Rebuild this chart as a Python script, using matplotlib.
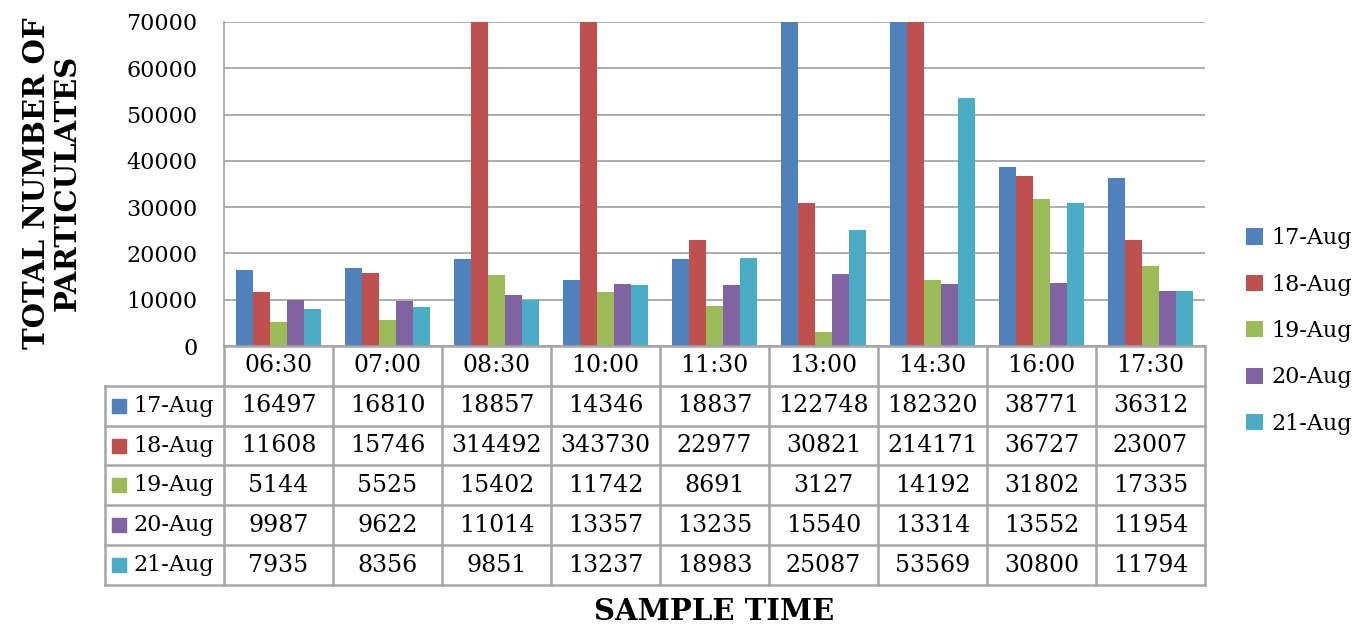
import numpy as np
import matplotlib.pyplot as plt

plt.rcParams['font.family'] = ['DejaVu Serif']

times = ['06:30', '07:00', '08:30', '10:00', '11:30', '13:00', '14:30', '16:00', '17:30']
days = ['17-Aug', '18-Aug', '19-Aug', '20-Aug', '21-Aug']
aug17 = [16497, 16810, 18857, 14346, 18837, 122748, 182320, 38771, 36312]
aug18 = [11608, 15746, 314492, 343730, 22977, 30821, 214171, 36727, 23007]
aug19 = [5144, 5525, 15402, 11742, 8691, 3127, 14192, 31802, 17335]
aug20 = [9987, 9622, 11014, 13357, 13235, 15540, 13314, 13552, 11954]
aug21 = [7935, 8356, 9851, 13237, 18983, 25087, 53569, 30800, 11794]
series = [aug17, aug18, aug19, aug20, aug21]
colors = ['#4F81BD', '#C0504D', '#9BBB59', '#8064A2', '#4BACC6']

W, H = 1370, 629
fig = plt.figure(figsize=(W / 100, H / 100), dpi=100)
gray = '#a6a6a6'

# bar chart area
ax = fig.add_axes([224 / W, 1 - 346 / H, (1205 - 224) / W, (346 - 22) / H])
x = np.arange(len(times))
bw = 0.156
for i, vals in enumerate(series):
    ax.bar(x + (i - 2) * bw, vals, bw, color=colors[i], label=days[i], zorder=3)
ax.set_xlim(-0.5, len(times) - 0.5)
ax.set_ylim(0, 70000)
ax.set_yticks(np.arange(0, 70001, 10000))
ax.grid(axis='y', color=gray, lw=1.3, zorder=0)
ax.set_xticks([])
ax.tick_params(axis='y', length=0, pad=19, labelsize=16)
for s in ['top', 'right', 'bottom']:
    ax.spines[s].set_visible(False)
ax.spines['left'].set_color(gray)
ax.spines['left'].set_linewidth(1.3)

# data table below
lab_w = 119 / 109
tax = fig.add_axes([105 / W, 1 - 585 / H, (1205 - 105) / W, (585 - 346) / H])
tax.set_xlim(-0.5 - lab_w, len(times) - 0.5)
tax.set_ylim(6, 0)
tax.axis('off')
for k in range(len(times) + 1):
    tax.plot([k - 0.5, k - 0.5], [0, 6], color=gray, lw=1.8, clip_on=False)
tax.plot([-0.5 - lab_w] * 2, [1, 6], color=gray, lw=1.8, clip_on=False)
tax.plot([-0.5, len(times) - 0.5], [0, 0], color=gray, lw=1.8, clip_on=False)
for r in range(1, 7):
    tax.plot([-0.5 - lab_w, len(times) - 0.5], [r, r], color=gray, lw=1.8, clip_on=False)
for j, t in enumerate(times):
    tax.text(j, 0.5, t, ha='center', va='center', fontsize=17)
for i, vals in enumerate(series):
    yc = i + 1.5
    tax.scatter([-0.5 - lab_w + 0.125], [yc], marker='s', s=110, color=colors[i], clip_on=False)
    tax.text(-0.5 - lab_w + 0.26, yc, days[i], ha='left', va='center', fontsize=16)
    for j, v in enumerate(vals):
        tax.text(j, yc, str(v), ha='center', va='center', fontsize=17)

# legend
fig.legend(loc='center left', bbox_to_anchor=(1226 / W, 1 - 331 / H), frameon=False,
           fontsize=16, handlelength=0.75, handleheight=0.75, handletextpad=0.4,
           labelspacing=1.1)

fig.text(52 / W, 1 - 183 / H, 'TOTAL NUMBER OF\nPARTICULATES', rotation=90,
         ha='center', va='center', fontsize=21, fontweight='bold', linespacing=1.05,
         multialignment='center')
fig.text(714 / W, 1 - 611 / H, 'SAMPLE TIME', ha='center', va='center',
         fontsize=21, fontweight='bold')

fig.savefig('out.png', dpi=100)
